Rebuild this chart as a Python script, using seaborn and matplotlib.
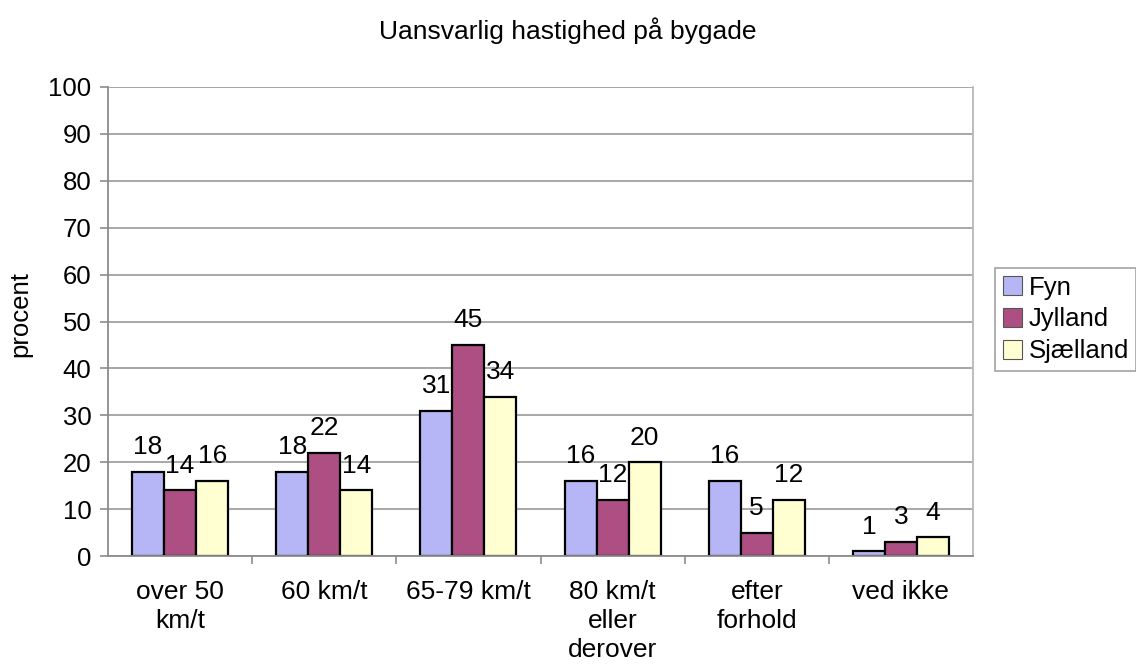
import pandas as pd
import matplotlib.pyplot as plt
import seaborn as sns

# data
categories = ["over 50\nkm/t", "60 km/t", "65-79 km/t", "80 km/t\neller\nderover", "efter\nforhold", "ved ikke"]
regions = ["Fyn", "Jylland", "Sjælland"]
fyn = [18, 18, 31, 16, 16, 1]
jylland = [14, 22, 45, 12, 5, 3]
sjaelland = [16, 14, 34, 20, 12, 4]
colors = ["#B6B6F7", "#AD4F83", "#FFFFD2"]

df = pd.DataFrame({
    "kategori": categories * 3,
    "region": [r for r in regions for _ in categories],
    "procent": fyn + jylland + sjaelland,
})

sns.set_style("white")
plt.rcParams["font.family"] = ["Liberation Sans", "DejaVu Sans"]
plt.rcParams["text.color"] = "black"
plt.rcParams["xtick.color"] = "black"
plt.rcParams["ytick.color"] = "black"
plt.rcParams["axes.labelcolor"] = "black"

fig = plt.figure(figsize=(11.36, 6.66), dpi=100)
ax = fig.add_axes([108 / 1136, 1 - 556 / 666, (973 - 108) / 1136, (556 - 87) / 666])

sns.barplot(data=df, x="kategori", y="procent", hue="region", hue_order=regions,
            order=categories, palette=colors, saturation=1, width=0.667,
            edgecolor="black", linewidth=1.6, ax=ax, legend=False)

for cont in ax.containers:
    ax.bar_label(cont, padding=9, fontsize=19)

ax.set_ylim(0, 100)
ax.set_yticks(range(0, 101, 10))
ax.set_xlim(-0.5, len(categories) - 0.5)
ax.yaxis.grid(True, color="#9a9a9a", linewidth=1.2)
ax.set_axisbelow(True)

for side in ["left", "bottom"]:
    ax.spines[side].set_color("#8c8c8c")
    ax.spines[side].set_linewidth(1.3)
ax.spines["right"].set_color("#b8b8b8")
ax.spines["right"].set_linewidth(1.3)
ax.spines["top"].set_visible(False)

ax.tick_params(axis="y", length=6, width=1.2, color="#8c8c8c", labelsize=18.5, pad=6, left=True)
ax.tick_params(axis="x", which="major", length=0, labelsize=19, pad=17)
ax.set_xticks([i + 0.5 for i in range(len(categories) - 1)], minor=True)
ax.tick_params(axis="x", which="minor", length=6, width=1.2, color="#8c8c8c", bottom=True)
for lbl in ax.get_xticklabels():
    lbl.set_linespacing(1.27)

ax.set_xlabel("")
ax.set_ylabel("procent", fontsize=18.5)
ax.yaxis.set_label_coords(-0.088, 0.515)

fig.text(568 / 1136, 1 - 31 / 666, "Uansvarlig hastighed på bygade", fontsize=19,
         ha="center", va="center")

handles = [plt.Rectangle((0, 0), 1, 1, facecolor=c, edgecolor="#555555", linewidth=0.8) for c in colors]
leg = fig.legend(handles, regions, loc="upper left", bbox_to_anchor=(995 / 1136, 1 - 268 / 666),
                 fontsize=18.5, frameon=True, fancybox=False, handlelength=0.75, handleheight=0.75,
                 handletextpad=0.25, labelspacing=0.3, borderpad=0.3, borderaxespad=0)
leg.get_frame().set_edgecolor("#8c8c8c")
leg.get_frame().set_linewidth(1.2)

fig.savefig("out.png", dpi=100)
